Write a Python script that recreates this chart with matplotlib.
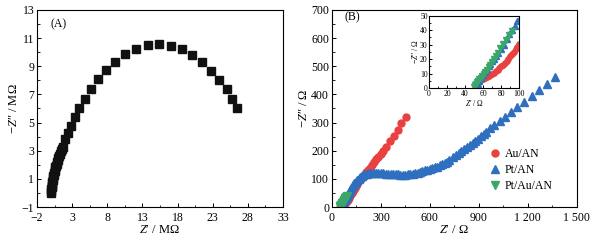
import matplotlib.pyplot as plt
from matplotlib.ticker import MultipleLocator, FuncFormatter

plt.rcParams['font.family'] = 'Liberation Serif'
plt.rcParams['mathtext.fontset'] = 'custom'
plt.rcParams['mathtext.rm'] = 'Liberation Serif'
plt.rcParams['mathtext.it'] = 'Liberation Serif:italic'

# Panel A: Nyquist plot, MOhm
a_x = [0.01, 0.03, 0.05, 0.08, 0.11, 0.15, 0.19, 0.23, 0.28, 0.33, 0.38, 0.44, 0.50,
       0.56, 0.63, 0.70, 0.78, 0.86, 0.95, 1.04, 1.14, 1.25, 1.37, 1.50, 1.65,
       2.03, 2.41, 2.88, 3.41, 4.02, 4.78, 5.68, 6.68, 7.86, 9.14, 10.56, 12.08,
       13.74, 15.35, 17.0, 18.6, 20.1, 21.5, 22.8, 23.9, 24.98, 25.8, 26.5]
a_y = [0.0, 0.13, 0.26, 0.39, 0.52, 0.65, 0.78, 0.91, 1.04, 1.17, 1.30, 1.43, 1.56,
       1.69, 1.82, 1.95, 2.08, 2.22, 2.36, 2.50, 2.65, 2.80, 2.96, 3.12, 3.30,
       3.80, 4.24, 4.79, 5.41, 6.07, 6.71, 7.40, 8.09, 8.75, 9.32, 9.84, 10.25,
       10.48, 10.56, 10.46, 10.20, 9.82, 9.30, 8.68, 8.00, 7.35, 6.66, 6.00]

# Panel B: Ohm
au_x = [52, 53, 54, 56, 58, 60, 62, 64, 66, 68, 70, 72, 74, 76, 78, 80, 82, 84, 86, 88,
        90, 92, 94, 96, 98, 100, 103, 107, 111, 116, 121, 127, 133, 139, 146, 153, 160,
        168, 176, 184, 196, 208, 220, 232, 245, 258, 271, 285, 299, 313, 333, 357, 378,
        402, 423, 453]
au_y = [1, 2.5, 4, 5, 5.8, 6.4, 7, 7.5, 8.1, 8.8, 9.7, 10.6, 11.6, 12.7, 13.8, 15, 16.3,
        17.6, 19, 20.4, 21.9, 23.4, 25, 26.7, 28.5, 30.3, 33, 37, 41, 46, 51, 57, 63, 69,
        76, 83, 89, 96, 100, 105, 114, 123, 131, 140, 150, 159, 169, 179, 189, 199, 214,
        235, 253, 274, 297, 321]

pt_x = [52, 54, 56, 58, 60, 62, 64, 66, 68, 70, 72, 74, 77, 80, 83, 86, 89, 92, 95, 98,
        102, 107, 112, 118, 124, 131, 138, 146, 154, 163, 172, 182, 193, 204, 216, 229,
        242, 256, 270, 285, 300, 315, 330, 345, 360, 375, 390, 405, 420, 435, 450, 465,
        480, 495, 510, 525, 539, 555, 570, 585, 600, 615, 630, 641, 660, 675, 690, 705,
        720, 743, 760, 777, 794, 811, 828, 845, 862, 879, 896, 913, 930, 947, 970, 995,
        1029, 1063, 1096, 1137, 1178, 1223, 1270, 1315, 1370]
pt_y = [1, 3, 5, 7, 9, 11, 13, 15, 17, 18.5, 20, 22, 24, 27, 30, 34, 37, 40, 43, 46,
        50, 55, 60, 66, 72, 78, 84, 90, 96, 101, 106, 110, 114, 117, 119, 121,
        122, 122, 122, 122, 121, 120, 119, 118, 117, 117, 116, 116, 115, 115, 115, 116,
        117, 118, 120, 122, 125, 127, 130, 133, 136, 139, 141, 143, 148, 152, 157, 161,
        166, 177, 184, 191, 198, 205, 212, 220, 227, 235, 243, 251, 260, 268, 279, 291,
        306, 321, 336, 356, 374, 394, 416, 437, 461]

ptau_x = [50, 51, 52, 53, 54.5, 56, 57.5, 59, 60.5, 62, 64, 66, 68, 70, 72, 74, 76.5,
          79, 82, 85, 88.5, 92]
ptau_y = [1, 2, 3, 4, 5, 6, 7.3, 8.6, 10, 11.3, 12.7, 14.3, 16, 18, 20, 22, 24.5,
          27.5, 30.5, 33.5, 36.5, 39.5]

red = '#e8413f'
blue = '#2f6fc0'
green = '#3aa66a'

fig = plt.figure(figsize=(5.97, 2.43), dpi=100)
ax1 = fig.add_axes([0.062, 0.148, 0.412, 0.811])
ax2 = fig.add_axes([0.556, 0.148, 0.410, 0.811])
axi = fig.add_axes([0.7186, 0.637, 0.151, 0.299])


def style(ax, size, major=3, minor=1.8):
    ax.tick_params(which='major', direction='in', length=major, width=0.7, labelsize=size, pad=2)
    ax.tick_params(which='minor', direction='in', length=minor, width=0.6)
    for s in ax.spines.values():
        s.set_linewidth(0.8)


minus = FuncFormatter(lambda v, p: f'{v:.0f}'.replace('-', '\u2212'))

# Panel A
ax1.plot(a_x, a_y, 's', color='#111111', markersize=5.3, linestyle='none')
ax1.set_xlim(-2, 33)
ax1.set_ylim(-1, 13)
ax1.set_xticks([-2, 3, 8, 13, 18, 23, 28, 33])
ax1.set_xticks([0.5, 5.5, 10.5, 15.5, 20.5, 25.5, 30.5], minor=True)
ax1.set_yticks([-1, 1, 3, 5, 7, 9, 11, 13])
ax1.set_yticks([0, 2, 4, 6, 8, 10, 12], minor=True)
ax1.xaxis.set_major_formatter(minus)
ax1.yaxis.set_major_formatter(minus)
style(ax1, 8.5)
ax1.tick_params(axis='x', which='major', pad=3.5)
ax1.set_xlabel("$Z$\u2032 / M\u03a9", fontsize=9, labelpad=0)
ax1.set_ylabel("\u2212$Z$\u2033 / M\u03a9", fontsize=9, labelpad=1)
ax1.text(0.053, 0.925, '(A)', transform=ax1.transAxes, fontsize=8.5, va='center')

# Panel B
ax2.plot(au_x, au_y, 'o', color=red, markersize=5, linestyle='none', label='Au/AN')
ax2.plot(pt_x, pt_y, '^', color=blue, markersize=5.3, linestyle='none', label='Pt/AN')
ax2.plot(ptau_x, ptau_y, 'v', color=green, markersize=5.3, linestyle='none', label='Pt/Au/AN')
ax2.set_xlim(0, 1500)
ax2.set_ylim(0, 700)
ax2.xaxis.set_major_locator(MultipleLocator(300))
ax2.xaxis.set_minor_locator(MultipleLocator(150))
ax2.yaxis.set_major_locator(MultipleLocator(100))
ax2.yaxis.set_minor_locator(MultipleLocator(50))
ax2.xaxis.set_major_formatter(FuncFormatter(
    lambda v, p: f'{int(v):,}'.replace(',', ' ')))
style(ax2, 8.5)
ax2.tick_params(axis='x', which='major', pad=3.5)
ax2.set_xlabel("$Z$\u2032 / \u03a9", fontsize=9, labelpad=0)
ax2.set_ylabel("\u2212$Z$\u2033 / \u03a9", fontsize=9, labelpad=1)
ax2.text(0.053, 0.962, '(B)', transform=ax2.transAxes, fontsize=8.5, va='center')
ax2.legend(loc='upper left', bbox_to_anchor=(0.63, 0.30), frameon=False, fontsize=8.5,
           handletextpad=0.1, labelspacing=0.35, borderaxespad=0, borderpad=0,
           handlelength=1.5)

# Inset
axi.plot(au_x, au_y, 'o', color=red, markersize=3.8, linestyle='none')
axi.plot(pt_x, pt_y, '^', color=blue, markersize=3.8, linestyle='none')
axi.plot(ptau_x, ptau_y, 'v', color=green, markersize=3.8, linestyle='none')
axi.set_xlim(0, 100)
axi.set_ylim(0, 50)
axi.xaxis.set_major_locator(MultipleLocator(20))
axi.xaxis.set_minor_locator(MultipleLocator(10))
axi.yaxis.set_major_locator(MultipleLocator(10))
axi.yaxis.set_minor_locator(MultipleLocator(5))
style(axi, 5.5, major=2, minor=1.2)
axi.tick_params(pad=1)
axi.set_xlabel("$Z$\u2032 / \u03a9", fontsize=5.5, labelpad=0)
axi.set_ylabel("\u2212$Z$\u2033 / \u03a9", fontsize=5.5, labelpad=0)

fig.savefig('out.png', dpi=100)
